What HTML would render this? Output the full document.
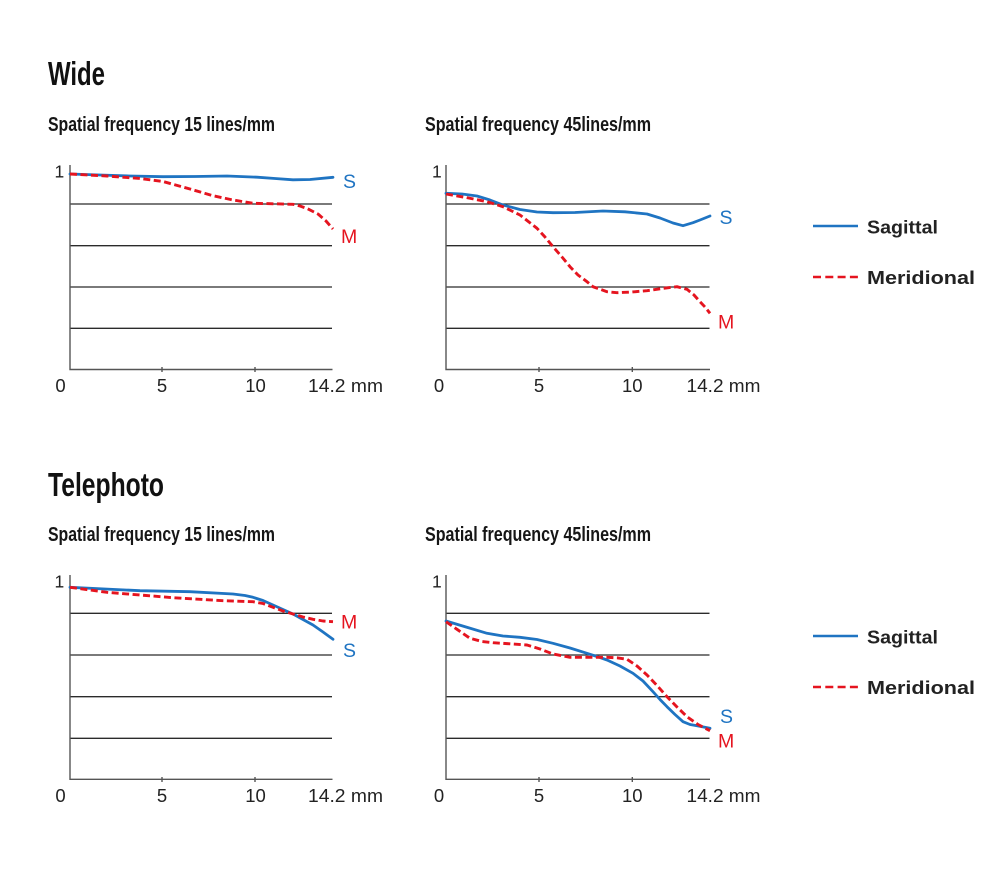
<!DOCTYPE html>
<html>
<head>
<meta charset="utf-8">
<style>
  html, body { margin: 0; padding: 0; background: #ffffff; }
  svg { display: block; }
  .title { font-family: "Liberation Sans Narrow", "Liberation Sans", sans-serif; font-weight: bold; fill: #111; }
  .sub { font-family: "Liberation Sans Narrow", "Liberation Sans", sans-serif; font-weight: bold; fill: #161616; }
  .ax { font-family: "Liberation Sans", sans-serif; fill: #222; }
  .lg { font-family: "Liberation Sans", sans-serif; font-weight: bold; fill: #222; }
  .grid { stroke: #2b2b2b; stroke-width: 1.3; }
  .axis { stroke: #555; stroke-width: 1.4; fill: none; }
  .s { fill: none; stroke: #1f74c2; stroke-width: 2.8; stroke-linejoin: round; stroke-linecap: round; }
  .m { fill: none; stroke: #e5141f; stroke-width: 2.9; stroke-dasharray: 7 3.5; stroke-linejoin: round; }
  .sl { font-family: "Liberation Sans", sans-serif; fill: #1f74c2; font-size: 19.5px; }
  .ml { font-family: "Liberation Sans", sans-serif; fill: #e5141f; font-size: 19.5px; }
</style>
</head>
<body>
<svg width="1000" height="875" viewBox="0 0 1000 875" xmlns="http://www.w3.org/2000/svg">
  <rect width="1000" height="875" fill="#fff"/>

  <!-- Titles -->
  <g transform="translate(48,85) scale(1,1.08)">
    <text class="title" x="0" y="0" font-size="31" textLength="57" lengthAdjust="spacingAndGlyphs">Wide</text>
  </g>
  <g transform="translate(48,496) scale(1,1.08)">
    <text class="title" x="0" y="0" font-size="31" textLength="116" lengthAdjust="spacingAndGlyphs">Telephoto</text>
  </g>

  <g transform="translate(48,131) scale(1,1.06)">
    <text class="sub" x="0" y="0" font-size="19" textLength="227" lengthAdjust="spacingAndGlyphs">Spatial frequency 15 lines/mm</text>
  </g>
  <g transform="translate(425,131) scale(1,1.06)">
    <text class="sub" x="0" y="0" font-size="19" textLength="226" lengthAdjust="spacingAndGlyphs">Spatial frequency 45lines/mm</text>
  </g>
  <g transform="translate(48,541) scale(1,1.06)">
    <text class="sub" x="0" y="0" font-size="19" textLength="227" lengthAdjust="spacingAndGlyphs">Spatial frequency 15 lines/mm</text>
  </g>
  <g transform="translate(425,541) scale(1,1.06)">
    <text class="sub" x="0" y="0" font-size="19" textLength="226" lengthAdjust="spacingAndGlyphs">Spatial frequency 45lines/mm</text>
  </g>

  <!-- ===== Top-left chart ===== -->
  <g>
    <line class="grid" x1="70" y1="204" x2="332" y2="204"/>
    <line class="grid" x1="70" y1="245.7" x2="332" y2="245.7"/>
    <line class="grid" x1="70" y1="287" x2="332" y2="287"/>
    <line class="grid" x1="70" y1="328.3" x2="332" y2="328.3"/>
    <polyline class="axis" points="70,165 70,369.5 332.5,369.5"/>
    <line class="axis" x1="162" y1="367" x2="162" y2="372"/>
    <line class="axis" x1="255" y1="367" x2="255" y2="372"/>
    <text class="ax" x="54.5" y="177.5" font-size="17.5">1</text>
    <text class="ax" x="60.5" y="392" font-size="18.5" text-anchor="middle">0</text>
    <text class="ax" x="162" y="392" font-size="18.5" text-anchor="middle">5</text>
    <text class="ax" x="255.5" y="392" font-size="18.5" text-anchor="middle">10</text>
    <text class="ax" x="308" y="392" font-size="18.5" textLength="75" lengthAdjust="spacingAndGlyphs">14.2 mm</text>

    <polyline class="s" points="70,174 100,175 130,176 163,176.7 195,176.5 227,176 257,177.2 275,178.5 293,179.8 310,179.5 333,177.3"/>
    <polyline class="m" points="70,174 107,176 140,178.5 163,181.5 190,189 212,195.5 233,200 253,203.3 275,203.8 293,204.3 300,206 307,208.5 318,214 326,221 333,229"/>
    <text class="sl" x="343" y="188">S</text>
    <text class="ml" x="341" y="243">M</text>
  </g>

  <!-- ===== Top-right chart ===== -->
  <g>
    <line class="grid" x1="446" y1="204" x2="709.5" y2="204"/>
    <line class="grid" x1="446" y1="245.7" x2="709.5" y2="245.7"/>
    <line class="grid" x1="446" y1="287" x2="709.5" y2="287"/>
    <line class="grid" x1="446" y1="328.3" x2="709.5" y2="328.3"/>
    <polyline class="axis" points="446,165 446,369.5 710,369.5"/>
    <line class="axis" x1="539" y1="367" x2="539" y2="372"/>
    <line class="axis" x1="632.3" y1="367" x2="632.3" y2="372"/>
    <text class="ax" x="432" y="177.5" font-size="17.5">1</text>
    <text class="ax" x="439" y="392" font-size="18.5" text-anchor="middle">0</text>
    <text class="ax" x="539" y="392" font-size="18.5" text-anchor="middle">5</text>
    <text class="ax" x="632.3" y="392" font-size="18.5" text-anchor="middle">10</text>
    <text class="ax" x="686.5" y="392" font-size="18.5" textLength="74" lengthAdjust="spacingAndGlyphs">14.2 mm</text>

    <polyline class="s" points="446,193.3 462,194 477,196 490,200 503,205 520,209.5 537,212 553,212.7 575,212.5 603,211 625,211.8 647,214 660,218 673,223 683,225.7 693,222.7 700,220 710,216"/>
    <polyline class="m" points="446,194 466,197.5 487,201.7 503,206.7 520,215 537,228.3 545,237 553,246.7 562,257 570,266.7 578,275 587,281.7 593,286.7 607,291.7 617,292.7 632,292 647,290.7 662,288.5 677,286.7 687,289.3 694,295 700,301.7 705,307 710,313.3"/>
    <text class="sl" x="719.5" y="224">S</text>
    <text class="ml" x="718" y="328.5">M</text>
  </g>

  <!-- Legend top -->
  <line x1="813" y1="226" x2="858" y2="226" stroke="#1f74c2" stroke-width="2.4"/>
  <line x1="813" y1="277" x2="858" y2="277" stroke="#e5141f" stroke-width="2.4" stroke-dasharray="8 4.3"/>
  <text class="lg" x="867" y="233.5" font-size="18" textLength="71" lengthAdjust="spacingAndGlyphs">Sagittal</text>
  <text class="lg" x="867" y="284" font-size="18" textLength="108" lengthAdjust="spacingAndGlyphs">Meridional</text>

  <!-- ===== Bottom-left chart ===== -->
  <g>
    <line class="grid" x1="70" y1="613.3" x2="332" y2="613.3"/>
    <line class="grid" x1="70" y1="655" x2="332" y2="655"/>
    <line class="grid" x1="70" y1="696.7" x2="332" y2="696.7"/>
    <line class="grid" x1="70" y1="738.3" x2="332" y2="738.3"/>
    <polyline class="axis" points="70,575 70,779.3 332.5,779.3"/>
    <line class="axis" x1="162" y1="777" x2="162" y2="782"/>
    <line class="axis" x1="255" y1="777" x2="255" y2="782"/>
    <text class="ax" x="54.5" y="587.5" font-size="17.5">1</text>
    <text class="ax" x="60.5" y="802" font-size="18.5" text-anchor="middle">0</text>
    <text class="ax" x="162" y="802" font-size="18.5" text-anchor="middle">5</text>
    <text class="ax" x="255.5" y="802" font-size="18.5" text-anchor="middle">10</text>
    <text class="ax" x="308" y="802" font-size="18.5" textLength="75" lengthAdjust="spacingAndGlyphs">14.2 mm</text>

    <polyline class="s" points="70,587.3 105,589 140,590.7 190,591.7 233,594 245,595.5 253,597.3 263,600.5 273,605 283,609.5 293,614 303,619.5 313,625 323,632 333,639.3"/>
    <polyline class="m" points="70,587.3 107,592.3 140,595 173,597.7 223,600.7 253,601.7 263,603.5 273,607.3 283,611 293,614 303,617 313,619.3 323,621 333,621.7"/>
    <text class="ml" x="341" y="628.5">M</text>
    <text class="sl" x="343" y="657">S</text>
  </g>

  <!-- ===== Bottom-right chart ===== -->
  <g>
    <line class="grid" x1="446" y1="613.3" x2="709.5" y2="613.3"/>
    <line class="grid" x1="446" y1="655" x2="709.5" y2="655"/>
    <line class="grid" x1="446" y1="696.7" x2="709.5" y2="696.7"/>
    <line class="grid" x1="446" y1="738.3" x2="709.5" y2="738.3"/>
    <polyline class="axis" points="446,575 446,779.3 710,779.3"/>
    <line class="axis" x1="539" y1="777" x2="539" y2="782"/>
    <line class="axis" x1="632.3" y1="777" x2="632.3" y2="782"/>
    <text class="ax" x="432" y="587.5" font-size="17.5">1</text>
    <text class="ax" x="439" y="802" font-size="18.5" text-anchor="middle">0</text>
    <text class="ax" x="539" y="802" font-size="18.5" text-anchor="middle">5</text>
    <text class="ax" x="632.3" y="802" font-size="18.5" text-anchor="middle">10</text>
    <text class="ax" x="686.5" y="802" font-size="18.5" textLength="74" lengthAdjust="spacingAndGlyphs">14.2 mm</text>

    <polyline class="s" points="446,621 466,627 487,633.3 503,636 520,637.3 537,639.5 553,643.3 570,648 587,653.3 600,657.5 607,660 620,666 633,673.3 643,681 653,691.7 660,699.5 667,706.7 675,714.5 683,721.7 690,724.5 697,725.7 710,728.3"/>
    <polyline class="m" points="446,621.7 458,630 470,638.3 482,641.5 493,642.7 510,643.8 527,645 540,649 553,654 570,657.3 590,657.3 607,657.3 617,657.8 627,659.3 637,666 647,675 657,685.5 667,696.7 677,707 687,716.7 698,724.5 710,730.7"/>
    <text class="sl" x="720" y="723">S</text>
    <text class="ml" x="718" y="747.5">M</text>
  </g>

  <!-- Legend bottom -->
  <line x1="813" y1="636" x2="858" y2="636" stroke="#1f74c2" stroke-width="2.4"/>
  <line x1="813" y1="687" x2="858" y2="687" stroke="#e5141f" stroke-width="2.4" stroke-dasharray="8 4.3"/>
  <text class="lg" x="867" y="643.5" font-size="18" textLength="71" lengthAdjust="spacingAndGlyphs">Sagittal</text>
  <text class="lg" x="867" y="694" font-size="18" textLength="108" lengthAdjust="spacingAndGlyphs">Meridional</text>
</svg>
</body>
</html>
